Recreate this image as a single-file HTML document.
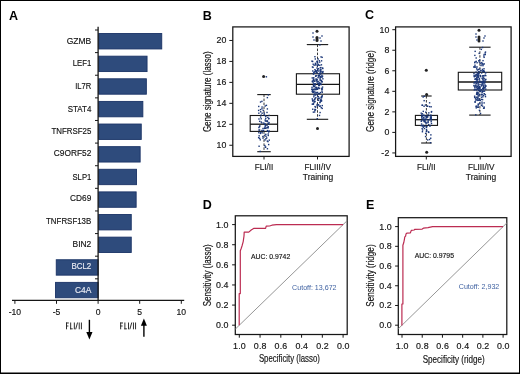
<!DOCTYPE html>
<html><head><meta charset="utf-8"><style>
html,body{margin:0;padding:0;background:#fff;}
svg{display:block;will-change:transform;}
text{font-family:"Liberation Sans",sans-serif;}
</style></head><body>
<svg width="520" height="374" viewBox="0 0 520 374">
<rect width="520" height="374" fill="#fff"/>
<rect x="0.5" y="0.5" width="519" height="373" fill="none" stroke="#000" stroke-width="1"/><line x1="0" y1="373.2" x2="520" y2="373.2" stroke="#000" stroke-width="1.6"/><text x="9.0" y="20.2" font-size="12.5" text-anchor="start" font-weight="bold" fill="#000">A</text><text x="202.8" y="20.2" font-size="12.5" text-anchor="start" font-weight="bold" fill="#000">B</text><text x="365.0" y="19.3" font-size="12.5" text-anchor="start" font-weight="bold" fill="#000">C</text><text x="202.8" y="208.9" font-size="12.5" text-anchor="start" font-weight="bold" fill="#000">D</text><text x="366.0" y="209.0" font-size="12.5" text-anchor="start" font-weight="bold" fill="#000">E</text><rect x="98.69999999999999" y="33.55" width="63.05" height="15.4" fill="#2e4b7c" stroke="#1a3366" stroke-width="0.9"/><text x="91.3" y="43.80" font-size="9.0" text-anchor="end" font-weight="normal" fill="#151515" textLength="24.6" lengthAdjust="spacingAndGlyphs" stroke="#151515" stroke-width="0.16">GZMB</text><rect x="98.69999999999999" y="56.17" width="48.35" height="15.4" fill="#2e4b7c" stroke="#1a3366" stroke-width="0.9"/><text x="91.3" y="66.40" font-size="9.0" text-anchor="end" font-weight="normal" fill="#151515" textLength="18.5" lengthAdjust="spacingAndGlyphs" stroke="#151515" stroke-width="0.16">LEF1</text><rect x="98.69999999999999" y="78.79" width="47.65" height="15.4" fill="#2e4b7c" stroke="#1a3366" stroke-width="0.9"/><text x="91.3" y="88.90" font-size="9.0" text-anchor="end" font-weight="normal" fill="#151515" textLength="16.1" lengthAdjust="spacingAndGlyphs" stroke="#151515" stroke-width="0.16">IL7R</text><rect x="98.69999999999999" y="101.41" width="44.15" height="15.4" fill="#2e4b7c" stroke="#1a3366" stroke-width="0.9"/><text x="91.3" y="111.70" font-size="9.0" text-anchor="end" font-weight="normal" fill="#151515" textLength="23.5" lengthAdjust="spacingAndGlyphs" stroke="#151515" stroke-width="0.16">STAT4</text><rect x="98.69999999999999" y="124.03" width="42.55" height="15.4" fill="#2e4b7c" stroke="#1a3366" stroke-width="0.9"/><text x="91.3" y="133.70" font-size="9.0" text-anchor="end" font-weight="normal" fill="#151515" textLength="39.9" lengthAdjust="spacingAndGlyphs" stroke="#151515" stroke-width="0.16">TNFRSF25</text><rect x="98.69999999999999" y="146.65" width="41.45" height="15.4" fill="#2e4b7c" stroke="#1a3366" stroke-width="0.9"/><text x="91.3" y="156.20" font-size="9.0" text-anchor="end" font-weight="normal" fill="#151515" textLength="37.5" lengthAdjust="spacingAndGlyphs" stroke="#151515" stroke-width="0.16">C9ORF52</text><rect x="98.69999999999999" y="169.27" width="37.85" height="15.4" fill="#2e4b7c" stroke="#1a3366" stroke-width="0.9"/><text x="91.3" y="179.70" font-size="9.0" text-anchor="end" font-weight="normal" fill="#151515" textLength="18.8" lengthAdjust="spacingAndGlyphs" stroke="#151515" stroke-width="0.16">SLP1</text><rect x="98.69999999999999" y="191.89" width="37.45" height="15.4" fill="#2e4b7c" stroke="#1a3366" stroke-width="0.9"/><text x="91.3" y="201.40" font-size="9.0" text-anchor="end" font-weight="normal" fill="#151515" textLength="21.2" lengthAdjust="spacingAndGlyphs" stroke="#151515" stroke-width="0.16">CD69</text><rect x="98.69999999999999" y="214.51" width="32.55" height="15.4" fill="#2e4b7c" stroke="#1a3366" stroke-width="0.9"/><text x="91.3" y="224.10" font-size="9.0" text-anchor="end" font-weight="normal" fill="#151515" textLength="45.3" lengthAdjust="spacingAndGlyphs" stroke="#151515" stroke-width="0.16">TNFRSF13B</text><rect x="98.69999999999999" y="237.13" width="32.55" height="15.4" fill="#2e4b7c" stroke="#1a3366" stroke-width="0.9"/><text x="91.3" y="246.70" font-size="9.0" text-anchor="end" font-weight="normal" fill="#151515" textLength="18.8" lengthAdjust="spacingAndGlyphs" stroke="#151515" stroke-width="0.16">BIN2</text><rect x="56.25" y="259.75" width="41.85" height="15.4" fill="#2e4b7c" stroke="#1a3366" stroke-width="0.9"/><text x="91.3" y="269.40" font-size="9.0" text-anchor="end" font-weight="normal" fill="#e8eaf2" textLength="19.9" lengthAdjust="spacingAndGlyphs" stroke="#e8eaf2" stroke-width="0.16">BCL2</text><rect x="55.550000000000004" y="282.37" width="42.55" height="15.4" fill="#2e4b7c" stroke="#1a3366" stroke-width="0.9"/><text x="91.3" y="292.50" font-size="9.0" text-anchor="end" font-weight="normal" fill="#e8eaf2" textLength="16.4" lengthAdjust="spacingAndGlyphs" stroke="#e8eaf2" stroke-width="0.16">C4A</text><line x1="98.1" y1="26.8" x2="98.1" y2="300.3" stroke="#161616" stroke-width="1.3"/><line x1="95" y1="30.00" x2="98.1" y2="30.00" stroke="#161616" stroke-width="1"/><line x1="95" y1="52.62" x2="98.1" y2="52.62" stroke="#161616" stroke-width="1"/><line x1="95" y1="75.24" x2="98.1" y2="75.24" stroke="#161616" stroke-width="1"/><line x1="95" y1="97.86" x2="98.1" y2="97.86" stroke="#161616" stroke-width="1"/><line x1="95" y1="120.48" x2="98.1" y2="120.48" stroke="#161616" stroke-width="1"/><line x1="95" y1="143.10" x2="98.1" y2="143.10" stroke="#161616" stroke-width="1"/><line x1="95" y1="165.72" x2="98.1" y2="165.72" stroke="#161616" stroke-width="1"/><line x1="95" y1="188.34" x2="98.1" y2="188.34" stroke="#161616" stroke-width="1"/><line x1="95" y1="210.96" x2="98.1" y2="210.96" stroke="#161616" stroke-width="1"/><line x1="95" y1="233.58" x2="98.1" y2="233.58" stroke="#161616" stroke-width="1"/><line x1="95" y1="256.20" x2="98.1" y2="256.20" stroke="#161616" stroke-width="1"/><line x1="95" y1="278.82" x2="98.1" y2="278.82" stroke="#161616" stroke-width="1"/><line x1="12" y1="300.45" x2="184.2" y2="300.45" stroke="#161616" stroke-width="1.3"/><line x1="14.90" y1="300.3" x2="14.90" y2="303.8" stroke="#161616" stroke-width="1"/><text x="14.90" y="315.0" font-size="8.6" text-anchor="middle" font-weight="normal" fill="#151515" stroke="#151515" stroke-width="0.16">-10</text><line x1="56.50" y1="300.3" x2="56.50" y2="303.8" stroke="#161616" stroke-width="1"/><text x="56.50" y="315.0" font-size="8.6" text-anchor="middle" font-weight="normal" fill="#151515" stroke="#151515" stroke-width="0.16">-5</text><line x1="98.10" y1="300.3" x2="98.10" y2="303.8" stroke="#161616" stroke-width="1"/><text x="98.10" y="315.0" font-size="8.6" text-anchor="middle" font-weight="normal" fill="#151515" stroke="#151515" stroke-width="0.16">0</text><line x1="139.70" y1="300.3" x2="139.70" y2="303.8" stroke="#161616" stroke-width="1"/><text x="139.70" y="315.0" font-size="8.6" text-anchor="middle" font-weight="normal" fill="#151515" stroke="#151515" stroke-width="0.16">5</text><line x1="181.30" y1="300.3" x2="181.30" y2="303.8" stroke="#161616" stroke-width="1"/><text x="181.30" y="315.0" font-size="8.6" text-anchor="middle" font-weight="normal" fill="#151515" stroke="#151515" stroke-width="0.16">10</text><rect x="66.00" y="322.50" width="0.95" height="6.80" fill="#262626"/><rect x="66.00" y="322.50" width="2.80" height="0.95" fill="#262626"/><rect x="66.00" y="325.55" width="2.40" height="0.90" fill="#262626"/><rect x="70.20" y="322.50" width="0.95" height="6.80" fill="#262626"/><rect x="70.20" y="328.35" width="2.50" height="0.95" fill="#262626"/><rect x="73.85" y="322.50" width="0.95" height="6.80" fill="#262626"/><line x1="75.65" y1="329.30" x2="77.55" y2="322.50" stroke="#262626" stroke-width="0.95"/><rect x="78.75" y="322.50" width="0.95" height="6.80" fill="#262626"/><rect x="80.90" y="322.50" width="0.95" height="6.80" fill="#262626"/><rect x="120.20" y="322.50" width="0.95" height="6.80" fill="#262626"/><rect x="120.20" y="322.50" width="2.80" height="0.95" fill="#262626"/><rect x="120.20" y="325.55" width="2.40" height="0.90" fill="#262626"/><rect x="124.40" y="322.50" width="0.95" height="6.80" fill="#262626"/><rect x="124.40" y="328.35" width="2.50" height="0.95" fill="#262626"/><rect x="128.05" y="322.50" width="0.95" height="6.80" fill="#262626"/><line x1="129.85" y1="329.30" x2="131.75" y2="322.50" stroke="#262626" stroke-width="0.95"/><rect x="132.95" y="322.50" width="0.95" height="6.80" fill="#262626"/><rect x="135.10" y="322.50" width="0.95" height="6.80" fill="#262626"/><line x1="89.4" y1="319.8" x2="89.4" y2="333" stroke="#000" stroke-width="1.4"/><polygon points="86.3,332 92.5,332 89.4,339.5" fill="#000"/><line x1="143.9" y1="324" x2="143.9" y2="336.8" stroke="#000" stroke-width="1.4"/><polygon points="140.9,325.8 146.9,325.8 143.9,318.6" fill="#000"/><rect x="232.8" y="26.9" width="116.30000000000001" height="129.5" fill="none" stroke="#161616" stroke-width="1.25"/><line x1="229.3" y1="145.26" x2="232.8" y2="145.26" stroke="#161616" stroke-width="1"/><text x="226.4" y="148.26" font-size="8.8" text-anchor="end" font-weight="normal" fill="#151515" letter-spacing="0.1" stroke="#151515" stroke-width="0.16">10</text><line x1="229.3" y1="124.30" x2="232.8" y2="124.30" stroke="#161616" stroke-width="1"/><text x="226.4" y="127.30" font-size="8.8" text-anchor="end" font-weight="normal" fill="#151515" letter-spacing="0.1" stroke="#151515" stroke-width="0.16">12</text><line x1="229.3" y1="103.34" x2="232.8" y2="103.34" stroke="#161616" stroke-width="1"/><text x="226.4" y="106.34" font-size="8.8" text-anchor="end" font-weight="normal" fill="#151515" letter-spacing="0.1" stroke="#151515" stroke-width="0.16">14</text><line x1="229.3" y1="82.38" x2="232.8" y2="82.38" stroke="#161616" stroke-width="1"/><text x="226.4" y="85.38" font-size="8.8" text-anchor="end" font-weight="normal" fill="#151515" letter-spacing="0.1" stroke="#151515" stroke-width="0.16">16</text><line x1="229.3" y1="61.42" x2="232.8" y2="61.42" stroke="#161616" stroke-width="1"/><text x="226.4" y="64.42" font-size="8.8" text-anchor="end" font-weight="normal" fill="#151515" letter-spacing="0.1" stroke="#151515" stroke-width="0.16">18</text><line x1="229.3" y1="40.46" x2="232.8" y2="40.46" stroke="#161616" stroke-width="1"/><text x="226.4" y="43.46" font-size="8.8" text-anchor="end" font-weight="normal" fill="#151515" letter-spacing="0.1" stroke="#151515" stroke-width="0.16">20</text><line x1="264" y1="156.4" x2="264" y2="159.5" stroke="#161616" stroke-width="1"/><line x1="317.5" y1="156.4" x2="317.5" y2="159.5" stroke="#161616" stroke-width="1"/><text x="264" y="170.4" font-size="8.5" text-anchor="middle" font-weight="normal" fill="#151515" textLength="18.6" lengthAdjust="spacingAndGlyphs" stroke="#151515" stroke-width="0.16">FLI/II</text><text x="317.7" y="170.4" font-size="8.5" text-anchor="middle" font-weight="normal" fill="#151515" textLength="26.5" lengthAdjust="spacingAndGlyphs" stroke="#151515" stroke-width="0.16">FLIII/IV</text><text x="318" y="180.2" font-size="8.5" text-anchor="middle" font-weight="normal" fill="#151515" textLength="30.3" lengthAdjust="spacingAndGlyphs" stroke="#151515" stroke-width="0.16">Training</text><text x="210.8" y="91.7" font-size="10.4" text-anchor="middle" font-weight="normal" fill="#151515" textLength="80.8" lengthAdjust="spacingAndGlyphs" transform="rotate(-90 210.8 91.7)" stroke="#1a1a1a" stroke-width="0.18">Gene signature (lasso)</text><line x1="264" y1="94.6" x2="264" y2="115.5" stroke="#222" stroke-width="0.9" stroke-dasharray="2.5,1.5"/><line x1="264" y1="131.4" x2="264" y2="151.7" stroke="#222" stroke-width="0.9" stroke-dasharray="2.5,1.5"/><line x1="257.25" y1="94.6" x2="270.75" y2="94.6" stroke="#161616" stroke-width="1.1"/><line x1="257.25" y1="151.7" x2="270.75" y2="151.7" stroke="#161616" stroke-width="1.1"/><rect x="250.2" y="115.5" width="27.400000000000034" height="15.900000000000006" fill="none" stroke="#161616" stroke-width="1.1"/><line x1="250.2" y1="124.2" x2="277.6" y2="124.2" stroke="#161616" stroke-width="1.3"/><circle cx="263.6" cy="76.6" r="1.5" fill="#222"/><line x1="317.5" y1="44.6" x2="317.5" y2="73.75" stroke="#222" stroke-width="0.9" stroke-dasharray="2.5,1.5"/><line x1="317.5" y1="94.2" x2="317.5" y2="119.3" stroke="#222" stroke-width="0.9" stroke-dasharray="2.5,1.5"/><line x1="306.8" y1="44.6" x2="328.2" y2="44.6" stroke="#161616" stroke-width="1.1"/><line x1="306.8" y1="119.3" x2="328.2" y2="119.3" stroke="#161616" stroke-width="1.1"/><rect x="296.4" y="73.75" width="43.10000000000002" height="20.450000000000003" fill="none" stroke="#161616" stroke-width="1.1"/><line x1="296.4" y1="84.3" x2="339.5" y2="84.3" stroke="#161616" stroke-width="1.3"/><circle cx="317" cy="31.2" r="1.5" fill="#222"/><circle cx="317" cy="37.5" r="1.5" fill="#222"/><circle cx="317" cy="39" r="1.5" fill="#222"/><circle cx="317" cy="40.5" r="1.5" fill="#222"/><circle cx="317.5" cy="128.6" r="1.5" fill="#222"/><rect x="266.02" y="137.25" width="1.4" height="1.4" fill="#1b3778"/><rect x="264.20" y="127.16" width="1.4" height="1.4" fill="#1b3778"/><rect x="262.48" y="129.77" width="1.4" height="1.4" fill="#1b3778"/><rect x="267.54" y="134.78" width="1.4" height="1.4" fill="#1b3778"/><rect x="262.31" y="127.81" width="1.4" height="1.4" fill="#1b3778"/><rect x="268.03" y="131.31" width="1.4" height="1.4" fill="#1b3778"/><rect x="258.47" y="135.11" width="1.4" height="1.4" fill="#1b3778"/><rect x="262.52" y="109.72" width="1.4" height="1.4" fill="#1b3778"/><rect x="263.52" y="112.51" width="1.4" height="1.4" fill="#1b3778"/><rect x="268.35" y="121.90" width="1.4" height="1.4" fill="#1b3778"/><rect x="260.51" y="118.10" width="1.4" height="1.4" fill="#1b3778"/><rect x="266.73" y="148.04" width="1.4" height="1.4" fill="#1b3778"/><rect x="265.28" y="138.00" width="1.4" height="1.4" fill="#1b3778"/><rect x="265.73" y="104.66" width="1.4" height="1.4" fill="#1b3778"/><rect x="264.75" y="120.35" width="1.4" height="1.4" fill="#1b3778"/><rect x="268.58" y="139.45" width="1.4" height="1.4" fill="#1b3778"/><rect x="261.43" y="112.50" width="1.4" height="1.4" fill="#1b3778"/><rect x="262.16" y="135.81" width="1.4" height="1.4" fill="#1b3778"/><rect x="259.97" y="111.09" width="1.4" height="1.4" fill="#1b3778"/><rect x="258.27" y="118.30" width="1.4" height="1.4" fill="#1b3778"/><rect x="260.08" y="131.71" width="1.4" height="1.4" fill="#1b3778"/><rect x="267.95" y="123.22" width="1.4" height="1.4" fill="#1b3778"/><rect x="267.11" y="116.67" width="1.4" height="1.4" fill="#1b3778"/><rect x="258.96" y="120.64" width="1.4" height="1.4" fill="#1b3778"/><rect x="264.46" y="125.66" width="1.4" height="1.4" fill="#1b3778"/><rect x="263.07" y="122.40" width="1.4" height="1.4" fill="#1b3778"/><rect x="264.36" y="139.20" width="1.4" height="1.4" fill="#1b3778"/><rect x="265.08" y="115.95" width="1.4" height="1.4" fill="#1b3778"/><rect x="261.13" y="122.15" width="1.4" height="1.4" fill="#1b3778"/><rect x="268.47" y="130.30" width="1.4" height="1.4" fill="#1b3778"/><rect x="262.92" y="130.01" width="1.4" height="1.4" fill="#1b3778"/><rect x="264.73" y="127.60" width="1.4" height="1.4" fill="#1b3778"/><rect x="264.81" y="124.55" width="1.4" height="1.4" fill="#1b3778"/><rect x="259.76" y="132.76" width="1.4" height="1.4" fill="#1b3778"/><rect x="258.39" y="145.55" width="1.4" height="1.4" fill="#1b3778"/><rect x="262.31" y="137.42" width="1.4" height="1.4" fill="#1b3778"/><rect x="266.26" y="124.80" width="1.4" height="1.4" fill="#1b3778"/><rect x="266.83" y="129.87" width="1.4" height="1.4" fill="#1b3778"/><rect x="265.88" y="120.38" width="1.4" height="1.4" fill="#1b3778"/><rect x="258.97" y="137.68" width="1.4" height="1.4" fill="#1b3778"/><rect x="267.93" y="118.07" width="1.4" height="1.4" fill="#1b3778"/><rect x="266.68" y="108.22" width="1.4" height="1.4" fill="#1b3778"/><rect x="267.53" y="133.30" width="1.4" height="1.4" fill="#1b3778"/><rect x="263.56" y="114.23" width="1.4" height="1.4" fill="#1b3778"/><rect x="267.96" y="143.86" width="1.4" height="1.4" fill="#1b3778"/><rect x="258.22" y="126.87" width="1.4" height="1.4" fill="#1b3778"/><rect x="258.04" y="105.76" width="1.4" height="1.4" fill="#1b3778"/><rect x="257.93" y="109.73" width="1.4" height="1.4" fill="#1b3778"/><rect x="260.53" y="121.34" width="1.4" height="1.4" fill="#1b3778"/><rect x="260.48" y="114.42" width="1.4" height="1.4" fill="#1b3778"/><rect x="259.80" y="108.89" width="1.4" height="1.4" fill="#1b3778"/><rect x="264.05" y="123.72" width="1.4" height="1.4" fill="#1b3778"/><rect x="258.14" y="131.99" width="1.4" height="1.4" fill="#1b3778"/><rect x="264.31" y="123.21" width="1.4" height="1.4" fill="#1b3778"/><rect x="259.56" y="139.12" width="1.4" height="1.4" fill="#1b3778"/><rect x="265.29" y="135.65" width="1.4" height="1.4" fill="#1b3778"/><rect x="257.94" y="136.99" width="1.4" height="1.4" fill="#1b3778"/><rect x="261.18" y="129.78" width="1.4" height="1.4" fill="#1b3778"/><rect x="268.21" y="117.79" width="1.4" height="1.4" fill="#1b3778"/><rect x="263.73" y="127.75" width="1.4" height="1.4" fill="#1b3778"/><rect x="266.79" y="120.75" width="1.4" height="1.4" fill="#1b3778"/><rect x="265.07" y="117.89" width="1.4" height="1.4" fill="#1b3778"/><rect x="264.54" y="119.32" width="1.4" height="1.4" fill="#1b3778"/><rect x="259.84" y="101.32" width="1.4" height="1.4" fill="#1b3778"/><rect x="264.13" y="144.88" width="1.4" height="1.4" fill="#1b3778"/><rect x="258.14" y="112.49" width="1.4" height="1.4" fill="#1b3778"/><rect x="266.68" y="96.92" width="1.4" height="1.4" fill="#1b3778"/><rect x="268.45" y="114.72" width="1.4" height="1.4" fill="#1b3778"/><rect x="267.26" y="140.91" width="1.4" height="1.4" fill="#1b3778"/><rect x="258.27" y="129.34" width="1.4" height="1.4" fill="#1b3778"/><rect x="261.49" y="132.14" width="1.4" height="1.4" fill="#1b3778"/><rect x="261.26" y="108.08" width="1.4" height="1.4" fill="#1b3778"/><rect x="258.96" y="129.37" width="1.4" height="1.4" fill="#1b3778"/><rect x="264.72" y="114.92" width="1.4" height="1.4" fill="#1b3778"/><rect x="266.63" y="120.27" width="1.4" height="1.4" fill="#1b3778"/><rect x="261.21" y="100.68" width="1.4" height="1.4" fill="#1b3778"/><rect x="267.36" y="127.19" width="1.4" height="1.4" fill="#1b3778"/><rect x="266.63" y="140.37" width="1.4" height="1.4" fill="#1b3778"/><rect x="259.15" y="125.13" width="1.4" height="1.4" fill="#1b3778"/><rect x="266.29" y="111.74" width="1.4" height="1.4" fill="#1b3778"/><rect x="267.59" y="126.11" width="1.4" height="1.4" fill="#1b3778"/><rect x="259.91" y="116.36" width="1.4" height="1.4" fill="#1b3778"/><rect x="264.12" y="134.58" width="1.4" height="1.4" fill="#1b3778"/><rect x="264.85" y="146.38" width="1.4" height="1.4" fill="#1b3778"/><rect x="264.52" y="105.27" width="1.4" height="1.4" fill="#1b3778"/><rect x="258.78" y="125.95" width="1.4" height="1.4" fill="#1b3778"/><rect x="265.11" y="133.67" width="1.4" height="1.4" fill="#1b3778"/><rect x="264.78" y="146.55" width="1.4" height="1.4" fill="#1b3778"/><rect x="266.93" y="126.70" width="1.4" height="1.4" fill="#1b3778"/><rect x="266.70" y="130.56" width="1.4" height="1.4" fill="#1b3778"/><rect x="261.36" y="106.35" width="1.4" height="1.4" fill="#1b3778"/><rect x="265.79" y="127.25" width="1.4" height="1.4" fill="#1b3778"/><rect x="267.41" y="122.60" width="1.4" height="1.4" fill="#1b3778"/><rect x="267.70" y="94.20" width="1.4" height="1.4" fill="#1b3778"/><rect x="259.51" y="150.70" width="1.4" height="1.4" fill="#1b3778"/><rect x="265.70" y="76.10" width="1.4" height="1.4" fill="#1b3778"/><rect x="316.33" y="72.38" width="1.4" height="1.4" fill="#1b3778"/><rect x="313.02" y="83.55" width="1.4" height="1.4" fill="#1b3778"/><rect x="314.22" y="56.01" width="1.4" height="1.4" fill="#1b3778"/><rect x="320.08" y="82.72" width="1.4" height="1.4" fill="#1b3778"/><rect x="313.26" y="86.04" width="1.4" height="1.4" fill="#1b3778"/><rect x="318.11" y="87.50" width="1.4" height="1.4" fill="#1b3778"/><rect x="315.75" y="70.19" width="1.4" height="1.4" fill="#1b3778"/><rect x="315.88" y="71.54" width="1.4" height="1.4" fill="#1b3778"/><rect x="320.35" y="83.93" width="1.4" height="1.4" fill="#1b3778"/><rect x="313.00" y="88.58" width="1.4" height="1.4" fill="#1b3778"/><rect x="321.55" y="95.08" width="1.4" height="1.4" fill="#1b3778"/><rect x="321.21" y="95.79" width="1.4" height="1.4" fill="#1b3778"/><rect x="318.69" y="82.13" width="1.4" height="1.4" fill="#1b3778"/><rect x="311.75" y="66.27" width="1.4" height="1.4" fill="#1b3778"/><rect x="318.63" y="74.99" width="1.4" height="1.4" fill="#1b3778"/><rect x="317.92" y="104.05" width="1.4" height="1.4" fill="#1b3778"/><rect x="319.85" y="75.85" width="1.4" height="1.4" fill="#1b3778"/><rect x="313.59" y="101.24" width="1.4" height="1.4" fill="#1b3778"/><rect x="321.88" y="86.40" width="1.4" height="1.4" fill="#1b3778"/><rect x="321.13" y="88.71" width="1.4" height="1.4" fill="#1b3778"/><rect x="312.48" y="63.52" width="1.4" height="1.4" fill="#1b3778"/><rect x="314.73" y="88.91" width="1.4" height="1.4" fill="#1b3778"/><rect x="311.56" y="77.22" width="1.4" height="1.4" fill="#1b3778"/><rect x="320.51" y="106.96" width="1.4" height="1.4" fill="#1b3778"/><rect x="321.45" y="56.65" width="1.4" height="1.4" fill="#1b3778"/><rect x="322.29" y="70.83" width="1.4" height="1.4" fill="#1b3778"/><rect x="318.05" y="84.95" width="1.4" height="1.4" fill="#1b3778"/><rect x="318.66" y="84.72" width="1.4" height="1.4" fill="#1b3778"/><rect x="318.80" y="114.76" width="1.4" height="1.4" fill="#1b3778"/><rect x="317.59" y="92.92" width="1.4" height="1.4" fill="#1b3778"/><rect x="321.87" y="75.48" width="1.4" height="1.4" fill="#1b3778"/><rect x="318.01" y="83.28" width="1.4" height="1.4" fill="#1b3778"/><rect x="314.96" y="75.24" width="1.4" height="1.4" fill="#1b3778"/><rect x="316.94" y="88.61" width="1.4" height="1.4" fill="#1b3778"/><rect x="311.41" y="88.52" width="1.4" height="1.4" fill="#1b3778"/><rect x="319.31" y="82.70" width="1.4" height="1.4" fill="#1b3778"/><rect x="318.97" y="72.57" width="1.4" height="1.4" fill="#1b3778"/><rect x="315.92" y="86.72" width="1.4" height="1.4" fill="#1b3778"/><rect x="320.74" y="64.11" width="1.4" height="1.4" fill="#1b3778"/><rect x="319.66" y="72.26" width="1.4" height="1.4" fill="#1b3778"/><rect x="314.97" y="75.55" width="1.4" height="1.4" fill="#1b3778"/><rect x="312.07" y="100.16" width="1.4" height="1.4" fill="#1b3778"/><rect x="312.68" y="82.34" width="1.4" height="1.4" fill="#1b3778"/><rect x="313.26" y="91.13" width="1.4" height="1.4" fill="#1b3778"/><rect x="314.60" y="58.28" width="1.4" height="1.4" fill="#1b3778"/><rect x="316.21" y="81.08" width="1.4" height="1.4" fill="#1b3778"/><rect x="321.59" y="104.89" width="1.4" height="1.4" fill="#1b3778"/><rect x="314.32" y="108.69" width="1.4" height="1.4" fill="#1b3778"/><rect x="321.26" y="90.35" width="1.4" height="1.4" fill="#1b3778"/><rect x="318.82" y="105.55" width="1.4" height="1.4" fill="#1b3778"/><rect x="320.76" y="76.23" width="1.4" height="1.4" fill="#1b3778"/><rect x="315.72" y="70.99" width="1.4" height="1.4" fill="#1b3778"/><rect x="311.24" y="60.47" width="1.4" height="1.4" fill="#1b3778"/><rect x="320.01" y="71.01" width="1.4" height="1.4" fill="#1b3778"/><rect x="313.95" y="111.26" width="1.4" height="1.4" fill="#1b3778"/><rect x="312.80" y="102.55" width="1.4" height="1.4" fill="#1b3778"/><rect x="320.15" y="68.74" width="1.4" height="1.4" fill="#1b3778"/><rect x="318.89" y="92.87" width="1.4" height="1.4" fill="#1b3778"/><rect x="313.58" y="71.15" width="1.4" height="1.4" fill="#1b3778"/><rect x="314.20" y="101.02" width="1.4" height="1.4" fill="#1b3778"/><rect x="321.72" y="71.95" width="1.4" height="1.4" fill="#1b3778"/><rect x="314.21" y="93.16" width="1.4" height="1.4" fill="#1b3778"/><rect x="319.07" y="64.59" width="1.4" height="1.4" fill="#1b3778"/><rect x="312.65" y="91.56" width="1.4" height="1.4" fill="#1b3778"/><rect x="320.33" y="97.28" width="1.4" height="1.4" fill="#1b3778"/><rect x="312.52" y="91.54" width="1.4" height="1.4" fill="#1b3778"/><rect x="316.98" y="80.46" width="1.4" height="1.4" fill="#1b3778"/><rect x="311.59" y="103.50" width="1.4" height="1.4" fill="#1b3778"/><rect x="317.36" y="83.08" width="1.4" height="1.4" fill="#1b3778"/><rect x="320.68" y="99.63" width="1.4" height="1.4" fill="#1b3778"/><rect x="312.15" y="99.33" width="1.4" height="1.4" fill="#1b3778"/><rect x="314.27" y="80.35" width="1.4" height="1.4" fill="#1b3778"/><rect x="319.76" y="91.87" width="1.4" height="1.4" fill="#1b3778"/><rect x="318.01" y="98.08" width="1.4" height="1.4" fill="#1b3778"/><rect x="314.70" y="62.62" width="1.4" height="1.4" fill="#1b3778"/><rect x="318.24" y="70.44" width="1.4" height="1.4" fill="#1b3778"/><rect x="316.29" y="78.87" width="1.4" height="1.4" fill="#1b3778"/><rect x="320.86" y="60.12" width="1.4" height="1.4" fill="#1b3778"/><rect x="314.48" y="94.32" width="1.4" height="1.4" fill="#1b3778"/><rect x="319.69" y="105.36" width="1.4" height="1.4" fill="#1b3778"/><rect x="318.32" y="73.21" width="1.4" height="1.4" fill="#1b3778"/><rect x="319.49" y="83.16" width="1.4" height="1.4" fill="#1b3778"/><rect x="315.44" y="88.24" width="1.4" height="1.4" fill="#1b3778"/><rect x="319.32" y="77.37" width="1.4" height="1.4" fill="#1b3778"/><rect x="319.02" y="61.41" width="1.4" height="1.4" fill="#1b3778"/><rect x="315.54" y="88.78" width="1.4" height="1.4" fill="#1b3778"/><rect x="311.50" y="90.84" width="1.4" height="1.4" fill="#1b3778"/><rect x="321.98" y="72.04" width="1.4" height="1.4" fill="#1b3778"/><rect x="319.19" y="101.90" width="1.4" height="1.4" fill="#1b3778"/><rect x="313.49" y="89.13" width="1.4" height="1.4" fill="#1b3778"/><rect x="319.39" y="111.84" width="1.4" height="1.4" fill="#1b3778"/><rect x="314.32" y="94.00" width="1.4" height="1.4" fill="#1b3778"/><rect x="316.46" y="88.08" width="1.4" height="1.4" fill="#1b3778"/><rect x="320.83" y="79.71" width="1.4" height="1.4" fill="#1b3778"/><rect x="316.22" y="78.86" width="1.4" height="1.4" fill="#1b3778"/><rect x="314.43" y="84.33" width="1.4" height="1.4" fill="#1b3778"/><rect x="314.62" y="64.24" width="1.4" height="1.4" fill="#1b3778"/><rect x="312.06" y="70.26" width="1.4" height="1.4" fill="#1b3778"/><rect x="313.66" y="85.54" width="1.4" height="1.4" fill="#1b3778"/><rect x="314.24" y="109.66" width="1.4" height="1.4" fill="#1b3778"/><rect x="313.14" y="96.09" width="1.4" height="1.4" fill="#1b3778"/><rect x="311.91" y="99.98" width="1.4" height="1.4" fill="#1b3778"/><rect x="316.42" y="60.63" width="1.4" height="1.4" fill="#1b3778"/><rect x="313.60" y="80.51" width="1.4" height="1.4" fill="#1b3778"/><rect x="319.47" y="78.89" width="1.4" height="1.4" fill="#1b3778"/><rect x="321.53" y="91.59" width="1.4" height="1.4" fill="#1b3778"/><rect x="314.26" y="88.21" width="1.4" height="1.4" fill="#1b3778"/><rect x="317.61" y="63.69" width="1.4" height="1.4" fill="#1b3778"/><rect x="316.88" y="91.71" width="1.4" height="1.4" fill="#1b3778"/><rect x="312.04" y="90.31" width="1.4" height="1.4" fill="#1b3778"/><rect x="312.60" y="103.46" width="1.4" height="1.4" fill="#1b3778"/><rect x="321.11" y="87.62" width="1.4" height="1.4" fill="#1b3778"/><rect x="316.51" y="64.92" width="1.4" height="1.4" fill="#1b3778"/><rect x="320.21" y="99.03" width="1.4" height="1.4" fill="#1b3778"/><rect x="311.95" y="60.79" width="1.4" height="1.4" fill="#1b3778"/><rect x="317.86" y="67.97" width="1.4" height="1.4" fill="#1b3778"/><rect x="320.89" y="100.19" width="1.4" height="1.4" fill="#1b3778"/><rect x="320.91" y="81.02" width="1.4" height="1.4" fill="#1b3778"/><rect x="311.26" y="88.59" width="1.4" height="1.4" fill="#1b3778"/><rect x="317.04" y="68.62" width="1.4" height="1.4" fill="#1b3778"/><rect x="315.33" y="91.79" width="1.4" height="1.4" fill="#1b3778"/><rect x="319.71" y="77.07" width="1.4" height="1.4" fill="#1b3778"/><rect x="312.02" y="108.53" width="1.4" height="1.4" fill="#1b3778"/><rect x="314.17" y="91.37" width="1.4" height="1.4" fill="#1b3778"/><rect x="320.30" y="99.86" width="1.4" height="1.4" fill="#1b3778"/><rect x="316.46" y="105.01" width="1.4" height="1.4" fill="#1b3778"/><rect x="316.28" y="93.93" width="1.4" height="1.4" fill="#1b3778"/><rect x="322.05" y="67.82" width="1.4" height="1.4" fill="#1b3778"/><rect x="314.78" y="109.03" width="1.4" height="1.4" fill="#1b3778"/><rect x="311.67" y="89.34" width="1.4" height="1.4" fill="#1b3778"/><rect x="315.59" y="78.94" width="1.4" height="1.4" fill="#1b3778"/><rect x="312.92" y="80.06" width="1.4" height="1.4" fill="#1b3778"/><rect x="312.12" y="90.31" width="1.4" height="1.4" fill="#1b3778"/><rect x="317.56" y="64.43" width="1.4" height="1.4" fill="#1b3778"/><rect x="321.88" y="67.33" width="1.4" height="1.4" fill="#1b3778"/><rect x="317.69" y="95.89" width="1.4" height="1.4" fill="#1b3778"/><rect x="318.45" y="97.44" width="1.4" height="1.4" fill="#1b3778"/><rect x="314.82" y="86.50" width="1.4" height="1.4" fill="#1b3778"/><rect x="317.60" y="99.59" width="1.4" height="1.4" fill="#1b3778"/><rect x="319.63" y="83.59" width="1.4" height="1.4" fill="#1b3778"/><rect x="317.80" y="87.09" width="1.4" height="1.4" fill="#1b3778"/><rect x="320.19" y="66.89" width="1.4" height="1.4" fill="#1b3778"/><rect x="317.37" y="76.97" width="1.4" height="1.4" fill="#1b3778"/><rect x="313.42" y="64.48" width="1.4" height="1.4" fill="#1b3778"/><rect x="317.73" y="83.05" width="1.4" height="1.4" fill="#1b3778"/><rect x="316.70" y="82.43" width="1.4" height="1.4" fill="#1b3778"/><rect x="313.06" y="77.03" width="1.4" height="1.4" fill="#1b3778"/><rect x="318.13" y="75.87" width="1.4" height="1.4" fill="#1b3778"/><rect x="320.35" y="56.20" width="1.4" height="1.4" fill="#1b3778"/><rect x="312.71" y="78.26" width="1.4" height="1.4" fill="#1b3778"/><rect x="317.30" y="104.39" width="1.4" height="1.4" fill="#1b3778"/><rect x="319.42" y="73.82" width="1.4" height="1.4" fill="#1b3778"/><rect x="315.71" y="92.18" width="1.4" height="1.4" fill="#1b3778"/><rect x="314.22" y="68.99" width="1.4" height="1.4" fill="#1b3778"/><rect x="315.37" y="78.27" width="1.4" height="1.4" fill="#1b3778"/><rect x="317.27" y="96.09" width="1.4" height="1.4" fill="#1b3778"/><rect x="318.89" y="87.76" width="1.4" height="1.4" fill="#1b3778"/><rect x="317.46" y="58.31" width="1.4" height="1.4" fill="#1b3778"/><rect x="312.40" y="91.79" width="1.4" height="1.4" fill="#1b3778"/><rect x="320.36" y="100.31" width="1.4" height="1.4" fill="#1b3778"/><rect x="321.55" y="81.15" width="1.4" height="1.4" fill="#1b3778"/><rect x="312.33" y="66.71" width="1.4" height="1.4" fill="#1b3778"/><rect x="313.99" y="98.67" width="1.4" height="1.4" fill="#1b3778"/><rect x="313.15" y="78.81" width="1.4" height="1.4" fill="#1b3778"/><rect x="320.71" y="96.14" width="1.4" height="1.4" fill="#1b3778"/><rect x="321.40" y="76.39" width="1.4" height="1.4" fill="#1b3778"/><rect x="311.70" y="80.50" width="1.4" height="1.4" fill="#1b3778"/><rect x="314.92" y="106.42" width="1.4" height="1.4" fill="#1b3778"/><rect x="313.36" y="72.38" width="1.4" height="1.4" fill="#1b3778"/><rect x="316.46" y="61.09" width="1.4" height="1.4" fill="#1b3778"/><rect x="321.52" y="107.70" width="1.4" height="1.4" fill="#1b3778"/><rect x="311.99" y="99.83" width="1.4" height="1.4" fill="#1b3778"/><rect x="313.12" y="94.29" width="1.4" height="1.4" fill="#1b3778"/><rect x="316.65" y="62.31" width="1.4" height="1.4" fill="#1b3778"/><rect x="317.07" y="69.93" width="1.4" height="1.4" fill="#1b3778"/><rect x="319.55" y="79.84" width="1.4" height="1.4" fill="#1b3778"/><rect x="316.10" y="87.33" width="1.4" height="1.4" fill="#1b3778"/><rect x="312.78" y="103.36" width="1.4" height="1.4" fill="#1b3778"/><rect x="315.16" y="96.94" width="1.4" height="1.4" fill="#1b3778"/><rect x="322.20" y="78.08" width="1.4" height="1.4" fill="#1b3778"/><rect x="319.61" y="101.20" width="1.4" height="1.4" fill="#1b3778"/><rect x="312.50" y="79.71" width="1.4" height="1.4" fill="#1b3778"/><rect x="320.25" y="70.52" width="1.4" height="1.4" fill="#1b3778"/><rect x="314.68" y="83.20" width="1.4" height="1.4" fill="#1b3778"/><rect x="319.95" y="69.33" width="1.4" height="1.4" fill="#1b3778"/><rect x="311.34" y="86.63" width="1.4" height="1.4" fill="#1b3778"/><rect x="320.96" y="96.91" width="1.4" height="1.4" fill="#1b3778"/><rect x="313.02" y="72.25" width="1.4" height="1.4" fill="#1b3778"/><rect x="316.30" y="67.30" width="1.4" height="1.4" fill="#1b3778"/><rect x="318.61" y="60.04" width="1.4" height="1.4" fill="#1b3778"/><rect x="316.89" y="61.68" width="1.4" height="1.4" fill="#1b3778"/><rect x="313.05" y="85.54" width="1.4" height="1.4" fill="#1b3778"/><rect x="312.76" y="84.96" width="1.4" height="1.4" fill="#1b3778"/><rect x="314.39" y="97.87" width="1.4" height="1.4" fill="#1b3778"/><rect x="311.79" y="81.16" width="1.4" height="1.4" fill="#1b3778"/><rect x="313.63" y="100.56" width="1.4" height="1.4" fill="#1b3778"/><rect x="312.66" y="111.43" width="1.4" height="1.4" fill="#1b3778"/><rect x="316.41" y="103.76" width="1.4" height="1.4" fill="#1b3778"/><rect x="315.19" y="63.68" width="1.4" height="1.4" fill="#1b3778"/><rect x="317.77" y="81.15" width="1.4" height="1.4" fill="#1b3778"/><rect x="314.35" y="105.91" width="1.4" height="1.4" fill="#1b3778"/><rect x="311.58" y="98.21" width="1.4" height="1.4" fill="#1b3778"/><rect x="314.91" y="69.78" width="1.4" height="1.4" fill="#1b3778"/><rect x="319.66" y="99.70" width="1.4" height="1.4" fill="#1b3778"/><rect x="314.07" y="100.58" width="1.4" height="1.4" fill="#1b3778"/><rect x="315.73" y="71.32" width="1.4" height="1.4" fill="#1b3778"/><rect x="319.66" y="66.99" width="1.4" height="1.4" fill="#1b3778"/><rect x="315.75" y="79.80" width="1.4" height="1.4" fill="#1b3778"/><rect x="321.14" y="74.48" width="1.4" height="1.4" fill="#1b3778"/><rect x="321.48" y="71.37" width="1.4" height="1.4" fill="#1b3778"/><rect x="314.68" y="70.91" width="1.4" height="1.4" fill="#1b3778"/><rect x="319.44" y="69.41" width="1.4" height="1.4" fill="#1b3778"/><rect x="314.03" y="83.20" width="1.4" height="1.4" fill="#1b3778"/><rect x="312.76" y="73.32" width="1.4" height="1.4" fill="#1b3778"/><rect x="316.10" y="74.99" width="1.4" height="1.4" fill="#1b3778"/><rect x="317.95" y="74.79" width="1.4" height="1.4" fill="#1b3778"/><rect x="321.68" y="88.30" width="1.4" height="1.4" fill="#1b3778"/><rect x="312.83" y="72.87" width="1.4" height="1.4" fill="#1b3778"/><rect x="319.18" y="44.20" width="1.4" height="1.4" fill="#1b3778"/><rect x="316.53" y="118.00" width="1.4" height="1.4" fill="#1b3778"/><rect x="312.30" y="36.30" width="1.4" height="1.4" fill="#1b3778"/><rect x="319.30" y="37.30" width="1.4" height="1.4" fill="#1b3778"/><rect x="313.30" y="39.30" width="1.4" height="1.4" fill="#1b3778"/><rect x="320.30" y="40.30" width="1.4" height="1.4" fill="#1b3778"/><rect x="312.30" y="32.30" width="1.4" height="1.4" fill="#1b3778"/><rect x="321.30" y="35.30" width="1.4" height="1.4" fill="#1b3778"/><rect x="395.6" y="26.9" width="115.5" height="129.5" fill="none" stroke="#161616" stroke-width="1.25"/><line x1="392.3" y1="152.94" x2="395.6" y2="152.94" stroke="#161616" stroke-width="1"/><text x="389.4" y="155.94" font-size="8.8" text-anchor="end" font-weight="normal" fill="#151515" letter-spacing="0.1" stroke="#151515" stroke-width="0.16">-2</text><line x1="392.3" y1="132.40" x2="395.6" y2="132.40" stroke="#161616" stroke-width="1"/><text x="389.4" y="135.40" font-size="8.8" text-anchor="end" font-weight="normal" fill="#151515" letter-spacing="0.1" stroke="#151515" stroke-width="0.16">0</text><line x1="392.3" y1="111.86" x2="395.6" y2="111.86" stroke="#161616" stroke-width="1"/><text x="389.4" y="114.86" font-size="8.8" text-anchor="end" font-weight="normal" fill="#151515" letter-spacing="0.1" stroke="#151515" stroke-width="0.16">2</text><line x1="392.3" y1="91.32" x2="395.6" y2="91.32" stroke="#161616" stroke-width="1"/><text x="389.4" y="94.32" font-size="8.8" text-anchor="end" font-weight="normal" fill="#151515" letter-spacing="0.1" stroke="#151515" stroke-width="0.16">4</text><line x1="392.3" y1="70.78" x2="395.6" y2="70.78" stroke="#161616" stroke-width="1"/><text x="389.4" y="73.78" font-size="8.8" text-anchor="end" font-weight="normal" fill="#151515" letter-spacing="0.1" stroke="#151515" stroke-width="0.16">6</text><line x1="392.3" y1="50.24" x2="395.6" y2="50.24" stroke="#161616" stroke-width="1"/><text x="389.4" y="53.24" font-size="8.8" text-anchor="end" font-weight="normal" fill="#151515" letter-spacing="0.1" stroke="#151515" stroke-width="0.16">8</text><line x1="392.3" y1="29.70" x2="395.6" y2="29.70" stroke="#161616" stroke-width="1"/><text x="389.4" y="32.70" font-size="8.8" text-anchor="end" font-weight="normal" fill="#151515" letter-spacing="0.1" stroke="#151515" stroke-width="0.16">10</text><line x1="426.3" y1="156.4" x2="426.3" y2="159.5" stroke="#161616" stroke-width="1"/><line x1="480.2" y1="156.4" x2="480.2" y2="159.5" stroke="#161616" stroke-width="1"/><text x="426.3" y="170.4" font-size="8.5" text-anchor="middle" font-weight="normal" fill="#151515" textLength="18.6" lengthAdjust="spacingAndGlyphs" stroke="#151515" stroke-width="0.16">FLI/II</text><text x="481.2" y="170.4" font-size="8.5" text-anchor="middle" font-weight="normal" fill="#151515" textLength="26.5" lengthAdjust="spacingAndGlyphs" stroke="#151515" stroke-width="0.16">FLIII/IV</text><text x="481.0" y="180.2" font-size="8.5" text-anchor="middle" font-weight="normal" fill="#151515" textLength="30.3" lengthAdjust="spacingAndGlyphs" stroke="#151515" stroke-width="0.16">Training</text><text x="374.2" y="91.15" font-size="10.4" text-anchor="middle" font-weight="normal" fill="#151515" textLength="81.6" lengthAdjust="spacingAndGlyphs" transform="rotate(-90 374.2 91.15)" stroke="#1a1a1a" stroke-width="0.18">Gene signature (ridge)</text><line x1="426.4" y1="96.0" x2="426.4" y2="115.4" stroke="#222" stroke-width="0.9" stroke-dasharray="2.5,1.5"/><line x1="426.4" y1="125.4" x2="426.4" y2="143.0" stroke="#222" stroke-width="0.9" stroke-dasharray="2.5,1.5"/><line x1="421.15" y1="96.0" x2="431.65" y2="96.0" stroke="#161616" stroke-width="1.1"/><line x1="421.15" y1="143.0" x2="431.65" y2="143.0" stroke="#161616" stroke-width="1.1"/><rect x="415.4" y="115.4" width="22.100000000000023" height="10.0" fill="none" stroke="#161616" stroke-width="1.1"/><line x1="415.4" y1="119.7" x2="437.5" y2="119.7" stroke="#161616" stroke-width="1.3"/><circle cx="426.6" cy="94.4" r="1.5" fill="#222"/><circle cx="426.3" cy="70.2" r="1.5" fill="#222"/><circle cx="426.7" cy="152.3" r="1.5" fill="#222"/><line x1="479.9" y1="47.2" x2="479.9" y2="72.3" stroke="#222" stroke-width="0.9" stroke-dasharray="2.5,1.5"/><line x1="479.9" y1="90.0" x2="479.9" y2="115.1" stroke="#222" stroke-width="0.9" stroke-dasharray="2.5,1.5"/><line x1="469.2" y1="47.2" x2="490.59999999999997" y2="47.2" stroke="#161616" stroke-width="1.1"/><line x1="469.2" y1="115.1" x2="490.59999999999997" y2="115.1" stroke="#161616" stroke-width="1.1"/><rect x="458.3" y="72.3" width="43.39999999999998" height="17.700000000000003" fill="none" stroke="#161616" stroke-width="1.1"/><line x1="458.3" y1="82.0" x2="501.7" y2="82.0" stroke="#161616" stroke-width="1.3"/><circle cx="479" cy="30.3" r="1.5" fill="#222"/><circle cx="479" cy="37" r="1.5" fill="#222"/><circle cx="479" cy="39" r="1.5" fill="#222"/><circle cx="479" cy="41" r="1.5" fill="#222"/><rect x="429.90" y="116.31" width="1.4" height="1.4" fill="#1b3778"/><rect x="423.76" y="127.82" width="1.4" height="1.4" fill="#1b3778"/><rect x="423.37" y="105.61" width="1.4" height="1.4" fill="#1b3778"/><rect x="430.35" y="115.50" width="1.4" height="1.4" fill="#1b3778"/><rect x="425.74" y="125.66" width="1.4" height="1.4" fill="#1b3778"/><rect x="421.42" y="104.50" width="1.4" height="1.4" fill="#1b3778"/><rect x="420.89" y="123.31" width="1.4" height="1.4" fill="#1b3778"/><rect x="430.90" y="110.87" width="1.4" height="1.4" fill="#1b3778"/><rect x="426.54" y="105.61" width="1.4" height="1.4" fill="#1b3778"/><rect x="420.98" y="114.28" width="1.4" height="1.4" fill="#1b3778"/><rect x="425.82" y="128.72" width="1.4" height="1.4" fill="#1b3778"/><rect x="425.74" y="130.87" width="1.4" height="1.4" fill="#1b3778"/><rect x="425.02" y="111.46" width="1.4" height="1.4" fill="#1b3778"/><rect x="430.48" y="120.98" width="1.4" height="1.4" fill="#1b3778"/><rect x="430.46" y="106.08" width="1.4" height="1.4" fill="#1b3778"/><rect x="421.72" y="131.03" width="1.4" height="1.4" fill="#1b3778"/><rect x="422.01" y="115.36" width="1.4" height="1.4" fill="#1b3778"/><rect x="424.72" y="104.32" width="1.4" height="1.4" fill="#1b3778"/><rect x="429.24" y="125.42" width="1.4" height="1.4" fill="#1b3778"/><rect x="427.01" y="139.24" width="1.4" height="1.4" fill="#1b3778"/><rect x="428.14" y="112.14" width="1.4" height="1.4" fill="#1b3778"/><rect x="426.51" y="115.79" width="1.4" height="1.4" fill="#1b3778"/><rect x="422.63" y="126.56" width="1.4" height="1.4" fill="#1b3778"/><rect x="429.07" y="118.96" width="1.4" height="1.4" fill="#1b3778"/><rect x="420.55" y="120.63" width="1.4" height="1.4" fill="#1b3778"/><rect x="427.80" y="131.24" width="1.4" height="1.4" fill="#1b3778"/><rect x="422.46" y="96.35" width="1.4" height="1.4" fill="#1b3778"/><rect x="425.39" y="118.79" width="1.4" height="1.4" fill="#1b3778"/><rect x="430.74" y="119.24" width="1.4" height="1.4" fill="#1b3778"/><rect x="426.11" y="130.12" width="1.4" height="1.4" fill="#1b3778"/><rect x="421.00" y="117.29" width="1.4" height="1.4" fill="#1b3778"/><rect x="424.95" y="132.70" width="1.4" height="1.4" fill="#1b3778"/><rect x="427.40" y="120.91" width="1.4" height="1.4" fill="#1b3778"/><rect x="421.00" y="116.11" width="1.4" height="1.4" fill="#1b3778"/><rect x="423.08" y="119.02" width="1.4" height="1.4" fill="#1b3778"/><rect x="420.59" y="125.01" width="1.4" height="1.4" fill="#1b3778"/><rect x="426.12" y="122.14" width="1.4" height="1.4" fill="#1b3778"/><rect x="424.44" y="119.43" width="1.4" height="1.4" fill="#1b3778"/><rect x="425.74" y="126.58" width="1.4" height="1.4" fill="#1b3778"/><rect x="423.54" y="120.90" width="1.4" height="1.4" fill="#1b3778"/><rect x="427.36" y="113.83" width="1.4" height="1.4" fill="#1b3778"/><rect x="422.23" y="124.97" width="1.4" height="1.4" fill="#1b3778"/><rect x="430.01" y="137.54" width="1.4" height="1.4" fill="#1b3778"/><rect x="430.58" y="116.57" width="1.4" height="1.4" fill="#1b3778"/><rect x="425.63" y="115.58" width="1.4" height="1.4" fill="#1b3778"/><rect x="425.33" y="123.04" width="1.4" height="1.4" fill="#1b3778"/><rect x="429.51" y="124.78" width="1.4" height="1.4" fill="#1b3778"/><rect x="423.47" y="120.40" width="1.4" height="1.4" fill="#1b3778"/><rect x="428.91" y="138.81" width="1.4" height="1.4" fill="#1b3778"/><rect x="423.45" y="99.97" width="1.4" height="1.4" fill="#1b3778"/><rect x="428.03" y="131.68" width="1.4" height="1.4" fill="#1b3778"/><rect x="423.94" y="115.10" width="1.4" height="1.4" fill="#1b3778"/><rect x="426.79" y="116.07" width="1.4" height="1.4" fill="#1b3778"/><rect x="430.21" y="114.36" width="1.4" height="1.4" fill="#1b3778"/><rect x="420.98" y="115.64" width="1.4" height="1.4" fill="#1b3778"/><rect x="428.96" y="114.81" width="1.4" height="1.4" fill="#1b3778"/><rect x="426.14" y="125.85" width="1.4" height="1.4" fill="#1b3778"/><rect x="424.42" y="117.42" width="1.4" height="1.4" fill="#1b3778"/><rect x="424.11" y="125.61" width="1.4" height="1.4" fill="#1b3778"/><rect x="421.14" y="119.89" width="1.4" height="1.4" fill="#1b3778"/><rect x="423.14" y="118.58" width="1.4" height="1.4" fill="#1b3778"/><rect x="427.01" y="116.14" width="1.4" height="1.4" fill="#1b3778"/><rect x="421.43" y="127.93" width="1.4" height="1.4" fill="#1b3778"/><rect x="427.50" y="119.49" width="1.4" height="1.4" fill="#1b3778"/><rect x="430.60" y="118.12" width="1.4" height="1.4" fill="#1b3778"/><rect x="430.80" y="122.86" width="1.4" height="1.4" fill="#1b3778"/><rect x="429.83" y="117.05" width="1.4" height="1.4" fill="#1b3778"/><rect x="428.95" y="105.93" width="1.4" height="1.4" fill="#1b3778"/><rect x="422.29" y="125.61" width="1.4" height="1.4" fill="#1b3778"/><rect x="430.68" y="111.37" width="1.4" height="1.4" fill="#1b3778"/><rect x="422.55" y="117.21" width="1.4" height="1.4" fill="#1b3778"/><rect x="429.61" y="118.79" width="1.4" height="1.4" fill="#1b3778"/><rect x="429.71" y="118.21" width="1.4" height="1.4" fill="#1b3778"/><rect x="426.99" y="105.53" width="1.4" height="1.4" fill="#1b3778"/><rect x="425.93" y="116.93" width="1.4" height="1.4" fill="#1b3778"/><rect x="422.52" y="114.52" width="1.4" height="1.4" fill="#1b3778"/><rect x="425.91" y="118.53" width="1.4" height="1.4" fill="#1b3778"/><rect x="423.48" y="119.38" width="1.4" height="1.4" fill="#1b3778"/><rect x="421.73" y="113.09" width="1.4" height="1.4" fill="#1b3778"/><rect x="421.76" y="104.57" width="1.4" height="1.4" fill="#1b3778"/><rect x="428.89" y="102.12" width="1.4" height="1.4" fill="#1b3778"/><rect x="430.18" y="134.17" width="1.4" height="1.4" fill="#1b3778"/><rect x="421.90" y="129.28" width="1.4" height="1.4" fill="#1b3778"/><rect x="420.54" y="112.48" width="1.4" height="1.4" fill="#1b3778"/><rect x="423.19" y="119.20" width="1.4" height="1.4" fill="#1b3778"/><rect x="421.83" y="118.36" width="1.4" height="1.4" fill="#1b3778"/><rect x="422.40" y="124.57" width="1.4" height="1.4" fill="#1b3778"/><rect x="426.58" y="115.75" width="1.4" height="1.4" fill="#1b3778"/><rect x="424.88" y="135.86" width="1.4" height="1.4" fill="#1b3778"/><rect x="424.95" y="121.29" width="1.4" height="1.4" fill="#1b3778"/><rect x="422.58" y="110.67" width="1.4" height="1.4" fill="#1b3778"/><rect x="427.44" y="121.88" width="1.4" height="1.4" fill="#1b3778"/><rect x="423.47" y="114.60" width="1.4" height="1.4" fill="#1b3778"/><rect x="424.63" y="121.52" width="1.4" height="1.4" fill="#1b3778"/><rect x="425.31" y="115.56" width="1.4" height="1.4" fill="#1b3778"/><rect x="429.99" y="117.76" width="1.4" height="1.4" fill="#1b3778"/><rect x="423.01" y="116.86" width="1.4" height="1.4" fill="#1b3778"/><rect x="428.02" y="123.95" width="1.4" height="1.4" fill="#1b3778"/><rect x="423.68" y="95.60" width="1.4" height="1.4" fill="#1b3778"/><rect x="429.88" y="142.00" width="1.4" height="1.4" fill="#1b3778"/><rect x="477.94" y="89.98" width="1.4" height="1.4" fill="#1b3778"/><rect x="473.47" y="75.87" width="1.4" height="1.4" fill="#1b3778"/><rect x="481.56" y="75.33" width="1.4" height="1.4" fill="#1b3778"/><rect x="478.52" y="98.18" width="1.4" height="1.4" fill="#1b3778"/><rect x="482.77" y="86.00" width="1.4" height="1.4" fill="#1b3778"/><rect x="476.00" y="80.83" width="1.4" height="1.4" fill="#1b3778"/><rect x="481.12" y="93.98" width="1.4" height="1.4" fill="#1b3778"/><rect x="481.28" y="84.56" width="1.4" height="1.4" fill="#1b3778"/><rect x="478.77" y="86.21" width="1.4" height="1.4" fill="#1b3778"/><rect x="475.46" y="105.94" width="1.4" height="1.4" fill="#1b3778"/><rect x="478.03" y="60.11" width="1.4" height="1.4" fill="#1b3778"/><rect x="482.14" y="96.14" width="1.4" height="1.4" fill="#1b3778"/><rect x="475.47" y="57.31" width="1.4" height="1.4" fill="#1b3778"/><rect x="474.28" y="64.51" width="1.4" height="1.4" fill="#1b3778"/><rect x="478.75" y="109.61" width="1.4" height="1.4" fill="#1b3778"/><rect x="476.01" y="74.34" width="1.4" height="1.4" fill="#1b3778"/><rect x="482.81" y="69.95" width="1.4" height="1.4" fill="#1b3778"/><rect x="483.01" y="87.94" width="1.4" height="1.4" fill="#1b3778"/><rect x="484.54" y="74.48" width="1.4" height="1.4" fill="#1b3778"/><rect x="483.28" y="79.82" width="1.4" height="1.4" fill="#1b3778"/><rect x="480.97" y="98.71" width="1.4" height="1.4" fill="#1b3778"/><rect x="475.44" y="85.37" width="1.4" height="1.4" fill="#1b3778"/><rect x="483.08" y="70.48" width="1.4" height="1.4" fill="#1b3778"/><rect x="481.94" y="87.59" width="1.4" height="1.4" fill="#1b3778"/><rect x="482.16" y="70.76" width="1.4" height="1.4" fill="#1b3778"/><rect x="481.57" y="80.96" width="1.4" height="1.4" fill="#1b3778"/><rect x="483.16" y="55.30" width="1.4" height="1.4" fill="#1b3778"/><rect x="476.77" y="93.44" width="1.4" height="1.4" fill="#1b3778"/><rect x="481.27" y="69.94" width="1.4" height="1.4" fill="#1b3778"/><rect x="479.41" y="88.39" width="1.4" height="1.4" fill="#1b3778"/><rect x="477.25" y="76.25" width="1.4" height="1.4" fill="#1b3778"/><rect x="477.12" y="82.30" width="1.4" height="1.4" fill="#1b3778"/><rect x="475.07" y="85.29" width="1.4" height="1.4" fill="#1b3778"/><rect x="479.10" y="68.28" width="1.4" height="1.4" fill="#1b3778"/><rect x="477.62" y="75.56" width="1.4" height="1.4" fill="#1b3778"/><rect x="478.26" y="86.42" width="1.4" height="1.4" fill="#1b3778"/><rect x="483.42" y="53.80" width="1.4" height="1.4" fill="#1b3778"/><rect x="481.38" y="103.20" width="1.4" height="1.4" fill="#1b3778"/><rect x="481.36" y="91.41" width="1.4" height="1.4" fill="#1b3778"/><rect x="485.01" y="85.12" width="1.4" height="1.4" fill="#1b3778"/><rect x="475.81" y="96.51" width="1.4" height="1.4" fill="#1b3778"/><rect x="479.29" y="81.20" width="1.4" height="1.4" fill="#1b3778"/><rect x="474.31" y="82.00" width="1.4" height="1.4" fill="#1b3778"/><rect x="477.91" y="76.55" width="1.4" height="1.4" fill="#1b3778"/><rect x="484.60" y="53.85" width="1.4" height="1.4" fill="#1b3778"/><rect x="474.23" y="65.96" width="1.4" height="1.4" fill="#1b3778"/><rect x="482.29" y="83.39" width="1.4" height="1.4" fill="#1b3778"/><rect x="483.59" y="63.23" width="1.4" height="1.4" fill="#1b3778"/><rect x="479.31" y="83.86" width="1.4" height="1.4" fill="#1b3778"/><rect x="482.77" y="80.59" width="1.4" height="1.4" fill="#1b3778"/><rect x="478.49" y="72.42" width="1.4" height="1.4" fill="#1b3778"/><rect x="477.44" y="92.04" width="1.4" height="1.4" fill="#1b3778"/><rect x="479.27" y="90.38" width="1.4" height="1.4" fill="#1b3778"/><rect x="475.54" y="78.51" width="1.4" height="1.4" fill="#1b3778"/><rect x="476.89" y="74.44" width="1.4" height="1.4" fill="#1b3778"/><rect x="476.86" y="106.47" width="1.4" height="1.4" fill="#1b3778"/><rect x="485.06" y="88.45" width="1.4" height="1.4" fill="#1b3778"/><rect x="477.22" y="88.79" width="1.4" height="1.4" fill="#1b3778"/><rect x="475.95" y="68.15" width="1.4" height="1.4" fill="#1b3778"/><rect x="484.48" y="81.31" width="1.4" height="1.4" fill="#1b3778"/><rect x="474.86" y="84.40" width="1.4" height="1.4" fill="#1b3778"/><rect x="484.79" y="51.36" width="1.4" height="1.4" fill="#1b3778"/><rect x="483.44" y="102.20" width="1.4" height="1.4" fill="#1b3778"/><rect x="480.96" y="81.78" width="1.4" height="1.4" fill="#1b3778"/><rect x="478.33" y="86.92" width="1.4" height="1.4" fill="#1b3778"/><rect x="475.57" y="107.17" width="1.4" height="1.4" fill="#1b3778"/><rect x="474.47" y="80.99" width="1.4" height="1.4" fill="#1b3778"/><rect x="474.44" y="101.02" width="1.4" height="1.4" fill="#1b3778"/><rect x="477.39" y="105.11" width="1.4" height="1.4" fill="#1b3778"/><rect x="478.09" y="88.03" width="1.4" height="1.4" fill="#1b3778"/><rect x="484.28" y="84.17" width="1.4" height="1.4" fill="#1b3778"/><rect x="479.63" y="90.58" width="1.4" height="1.4" fill="#1b3778"/><rect x="485.09" y="78.66" width="1.4" height="1.4" fill="#1b3778"/><rect x="481.85" y="91.08" width="1.4" height="1.4" fill="#1b3778"/><rect x="474.96" y="75.33" width="1.4" height="1.4" fill="#1b3778"/><rect x="479.84" y="112.76" width="1.4" height="1.4" fill="#1b3778"/><rect x="475.11" y="97.75" width="1.4" height="1.4" fill="#1b3778"/><rect x="473.67" y="85.47" width="1.4" height="1.4" fill="#1b3778"/><rect x="484.53" y="52.23" width="1.4" height="1.4" fill="#1b3778"/><rect x="477.25" y="93.16" width="1.4" height="1.4" fill="#1b3778"/><rect x="475.48" y="89.30" width="1.4" height="1.4" fill="#1b3778"/><rect x="474.42" y="88.60" width="1.4" height="1.4" fill="#1b3778"/><rect x="481.03" y="84.21" width="1.4" height="1.4" fill="#1b3778"/><rect x="478.73" y="93.81" width="1.4" height="1.4" fill="#1b3778"/><rect x="473.34" y="82.31" width="1.4" height="1.4" fill="#1b3778"/><rect x="481.78" y="80.48" width="1.4" height="1.4" fill="#1b3778"/><rect x="476.28" y="91.75" width="1.4" height="1.4" fill="#1b3778"/><rect x="482.57" y="81.37" width="1.4" height="1.4" fill="#1b3778"/><rect x="479.06" y="80.23" width="1.4" height="1.4" fill="#1b3778"/><rect x="479.63" y="62.41" width="1.4" height="1.4" fill="#1b3778"/><rect x="478.69" y="78.12" width="1.4" height="1.4" fill="#1b3778"/><rect x="481.31" y="101.43" width="1.4" height="1.4" fill="#1b3778"/><rect x="485.08" y="72.01" width="1.4" height="1.4" fill="#1b3778"/><rect x="482.77" y="90.48" width="1.4" height="1.4" fill="#1b3778"/><rect x="474.03" y="96.65" width="1.4" height="1.4" fill="#1b3778"/><rect x="479.14" y="89.94" width="1.4" height="1.4" fill="#1b3778"/><rect x="476.01" y="76.49" width="1.4" height="1.4" fill="#1b3778"/><rect x="474.43" y="101.51" width="1.4" height="1.4" fill="#1b3778"/><rect x="475.54" y="86.56" width="1.4" height="1.4" fill="#1b3778"/><rect x="476.18" y="98.86" width="1.4" height="1.4" fill="#1b3778"/><rect x="484.72" y="72.05" width="1.4" height="1.4" fill="#1b3778"/><rect x="482.14" y="83.19" width="1.4" height="1.4" fill="#1b3778"/><rect x="483.44" y="106.36" width="1.4" height="1.4" fill="#1b3778"/><rect x="481.59" y="90.90" width="1.4" height="1.4" fill="#1b3778"/><rect x="476.99" y="97.25" width="1.4" height="1.4" fill="#1b3778"/><rect x="477.89" y="70.96" width="1.4" height="1.4" fill="#1b3778"/><rect x="478.49" y="52.69" width="1.4" height="1.4" fill="#1b3778"/><rect x="476.72" y="69.35" width="1.4" height="1.4" fill="#1b3778"/><rect x="478.26" y="95.12" width="1.4" height="1.4" fill="#1b3778"/><rect x="482.45" y="76.90" width="1.4" height="1.4" fill="#1b3778"/><rect x="474.11" y="87.05" width="1.4" height="1.4" fill="#1b3778"/><rect x="476.52" y="80.69" width="1.4" height="1.4" fill="#1b3778"/><rect x="478.95" y="59.39" width="1.4" height="1.4" fill="#1b3778"/><rect x="481.31" y="94.12" width="1.4" height="1.4" fill="#1b3778"/><rect x="480.95" y="72.33" width="1.4" height="1.4" fill="#1b3778"/><rect x="481.90" y="78.46" width="1.4" height="1.4" fill="#1b3778"/><rect x="474.46" y="50.66" width="1.4" height="1.4" fill="#1b3778"/><rect x="475.37" y="71.39" width="1.4" height="1.4" fill="#1b3778"/><rect x="476.91" y="87.50" width="1.4" height="1.4" fill="#1b3778"/><rect x="476.58" y="91.62" width="1.4" height="1.4" fill="#1b3778"/><rect x="482.27" y="64.95" width="1.4" height="1.4" fill="#1b3778"/><rect x="485.12" y="85.48" width="1.4" height="1.4" fill="#1b3778"/><rect x="481.40" y="77.56" width="1.4" height="1.4" fill="#1b3778"/><rect x="473.60" y="89.22" width="1.4" height="1.4" fill="#1b3778"/><rect x="476.77" y="78.27" width="1.4" height="1.4" fill="#1b3778"/><rect x="482.84" y="94.83" width="1.4" height="1.4" fill="#1b3778"/><rect x="484.29" y="87.02" width="1.4" height="1.4" fill="#1b3778"/><rect x="480.34" y="64.83" width="1.4" height="1.4" fill="#1b3778"/><rect x="477.39" y="95.17" width="1.4" height="1.4" fill="#1b3778"/><rect x="477.46" y="84.23" width="1.4" height="1.4" fill="#1b3778"/><rect x="480.80" y="96.53" width="1.4" height="1.4" fill="#1b3778"/><rect x="483.57" y="93.12" width="1.4" height="1.4" fill="#1b3778"/><rect x="477.29" y="73.95" width="1.4" height="1.4" fill="#1b3778"/><rect x="475.49" y="82.49" width="1.4" height="1.4" fill="#1b3778"/><rect x="473.23" y="84.82" width="1.4" height="1.4" fill="#1b3778"/><rect x="474.85" y="74.44" width="1.4" height="1.4" fill="#1b3778"/><rect x="483.41" y="56.64" width="1.4" height="1.4" fill="#1b3778"/><rect x="480.70" y="104.61" width="1.4" height="1.4" fill="#1b3778"/><rect x="485.09" y="74.94" width="1.4" height="1.4" fill="#1b3778"/><rect x="474.03" y="61.99" width="1.4" height="1.4" fill="#1b3778"/><rect x="477.59" y="106.55" width="1.4" height="1.4" fill="#1b3778"/><rect x="482.75" y="75.08" width="1.4" height="1.4" fill="#1b3778"/><rect x="481.13" y="63.25" width="1.4" height="1.4" fill="#1b3778"/><rect x="474.00" y="75.90" width="1.4" height="1.4" fill="#1b3778"/><rect x="478.02" y="99.56" width="1.4" height="1.4" fill="#1b3778"/><rect x="480.85" y="88.98" width="1.4" height="1.4" fill="#1b3778"/><rect x="481.45" y="82.41" width="1.4" height="1.4" fill="#1b3778"/><rect x="478.62" y="80.96" width="1.4" height="1.4" fill="#1b3778"/><rect x="475.46" y="78.06" width="1.4" height="1.4" fill="#1b3778"/><rect x="484.79" y="79.32" width="1.4" height="1.4" fill="#1b3778"/><rect x="478.80" y="99.24" width="1.4" height="1.4" fill="#1b3778"/><rect x="481.81" y="105.36" width="1.4" height="1.4" fill="#1b3778"/><rect x="479.62" y="74.76" width="1.4" height="1.4" fill="#1b3778"/><rect x="474.17" y="78.47" width="1.4" height="1.4" fill="#1b3778"/><rect x="476.04" y="92.87" width="1.4" height="1.4" fill="#1b3778"/><rect x="473.96" y="96.81" width="1.4" height="1.4" fill="#1b3778"/><rect x="475.49" y="60.67" width="1.4" height="1.4" fill="#1b3778"/><rect x="475.60" y="73.55" width="1.4" height="1.4" fill="#1b3778"/><rect x="478.18" y="70.82" width="1.4" height="1.4" fill="#1b3778"/><rect x="477.06" y="79.27" width="1.4" height="1.4" fill="#1b3778"/><rect x="477.55" y="103.43" width="1.4" height="1.4" fill="#1b3778"/><rect x="483.00" y="86.63" width="1.4" height="1.4" fill="#1b3778"/><rect x="473.46" y="74.72" width="1.4" height="1.4" fill="#1b3778"/><rect x="474.44" y="61.17" width="1.4" height="1.4" fill="#1b3778"/><rect x="482.89" y="70.52" width="1.4" height="1.4" fill="#1b3778"/><rect x="479.61" y="99.82" width="1.4" height="1.4" fill="#1b3778"/><rect x="478.47" y="85.91" width="1.4" height="1.4" fill="#1b3778"/><rect x="476.41" y="62.03" width="1.4" height="1.4" fill="#1b3778"/><rect x="479.71" y="75.94" width="1.4" height="1.4" fill="#1b3778"/><rect x="475.86" y="83.10" width="1.4" height="1.4" fill="#1b3778"/><rect x="483.50" y="87.11" width="1.4" height="1.4" fill="#1b3778"/><rect x="483.09" y="85.01" width="1.4" height="1.4" fill="#1b3778"/><rect x="477.06" y="87.26" width="1.4" height="1.4" fill="#1b3778"/><rect x="473.49" y="66.51" width="1.4" height="1.4" fill="#1b3778"/><rect x="483.85" y="90.43" width="1.4" height="1.4" fill="#1b3778"/><rect x="476.78" y="85.64" width="1.4" height="1.4" fill="#1b3778"/><rect x="481.08" y="61.92" width="1.4" height="1.4" fill="#1b3778"/><rect x="483.50" y="107.38" width="1.4" height="1.4" fill="#1b3778"/><rect x="482.78" y="88.40" width="1.4" height="1.4" fill="#1b3778"/><rect x="483.55" y="70.87" width="1.4" height="1.4" fill="#1b3778"/><rect x="479.07" y="102.41" width="1.4" height="1.4" fill="#1b3778"/><rect x="483.31" y="68.07" width="1.4" height="1.4" fill="#1b3778"/><rect x="478.73" y="78.36" width="1.4" height="1.4" fill="#1b3778"/><rect x="476.37" y="66.27" width="1.4" height="1.4" fill="#1b3778"/><rect x="478.97" y="93.73" width="1.4" height="1.4" fill="#1b3778"/><rect x="477.22" y="96.44" width="1.4" height="1.4" fill="#1b3778"/><rect x="482.41" y="63.70" width="1.4" height="1.4" fill="#1b3778"/><rect x="483.18" y="78.34" width="1.4" height="1.4" fill="#1b3778"/><rect x="474.89" y="99.30" width="1.4" height="1.4" fill="#1b3778"/><rect x="475.17" y="78.18" width="1.4" height="1.4" fill="#1b3778"/><rect x="477.80" y="84.37" width="1.4" height="1.4" fill="#1b3778"/><rect x="478.76" y="86.72" width="1.4" height="1.4" fill="#1b3778"/><rect x="484.68" y="94.09" width="1.4" height="1.4" fill="#1b3778"/><rect x="484.50" y="86.16" width="1.4" height="1.4" fill="#1b3778"/><rect x="484.80" y="95.95" width="1.4" height="1.4" fill="#1b3778"/><rect x="481.96" y="63.10" width="1.4" height="1.4" fill="#1b3778"/><rect x="481.33" y="89.52" width="1.4" height="1.4" fill="#1b3778"/><rect x="476.44" y="76.44" width="1.4" height="1.4" fill="#1b3778"/><rect x="477.67" y="68.67" width="1.4" height="1.4" fill="#1b3778"/><rect x="473.23" y="66.17" width="1.4" height="1.4" fill="#1b3778"/><rect x="483.20" y="81.89" width="1.4" height="1.4" fill="#1b3778"/><rect x="476.51" y="99.70" width="1.4" height="1.4" fill="#1b3778"/><rect x="474.15" y="54.69" width="1.4" height="1.4" fill="#1b3778"/><rect x="476.99" y="75.04" width="1.4" height="1.4" fill="#1b3778"/><rect x="477.08" y="72.62" width="1.4" height="1.4" fill="#1b3778"/><rect x="481.89" y="98.93" width="1.4" height="1.4" fill="#1b3778"/><rect x="473.27" y="72.83" width="1.4" height="1.4" fill="#1b3778"/><rect x="475.96" y="88.43" width="1.4" height="1.4" fill="#1b3778"/><rect x="483.96" y="82.28" width="1.4" height="1.4" fill="#1b3778"/><rect x="483.46" y="75.11" width="1.4" height="1.4" fill="#1b3778"/><rect x="480.75" y="85.26" width="1.4" height="1.4" fill="#1b3778"/><rect x="479.91" y="70.07" width="1.4" height="1.4" fill="#1b3778"/><rect x="475.87" y="93.68" width="1.4" height="1.4" fill="#1b3778"/><rect x="483.70" y="93.03" width="1.4" height="1.4" fill="#1b3778"/><rect x="482.33" y="59.94" width="1.4" height="1.4" fill="#1b3778"/><rect x="479.36" y="81.17" width="1.4" height="1.4" fill="#1b3778"/><rect x="475.13" y="66.54" width="1.4" height="1.4" fill="#1b3778"/><rect x="475.79" y="79.27" width="1.4" height="1.4" fill="#1b3778"/><rect x="477.75" y="72.96" width="1.4" height="1.4" fill="#1b3778"/><rect x="477.17" y="98.13" width="1.4" height="1.4" fill="#1b3778"/><rect x="473.93" y="95.50" width="1.4" height="1.4" fill="#1b3778"/><rect x="478.08" y="74.40" width="1.4" height="1.4" fill="#1b3778"/><rect x="478.58" y="87.87" width="1.4" height="1.4" fill="#1b3778"/><rect x="476.64" y="78.84" width="1.4" height="1.4" fill="#1b3778"/><rect x="477.81" y="82.37" width="1.4" height="1.4" fill="#1b3778"/><rect x="477.19" y="93.29" width="1.4" height="1.4" fill="#1b3778"/><rect x="477.72" y="103.74" width="1.4" height="1.4" fill="#1b3778"/><rect x="480.63" y="48.68" width="1.4" height="1.4" fill="#1b3778"/><rect x="479.17" y="86.19" width="1.4" height="1.4" fill="#1b3778"/><rect x="475.57" y="105.41" width="1.4" height="1.4" fill="#1b3778"/><rect x="482.74" y="81.15" width="1.4" height="1.4" fill="#1b3778"/><rect x="479.36" y="87.22" width="1.4" height="1.4" fill="#1b3778"/><rect x="478.70" y="61.46" width="1.4" height="1.4" fill="#1b3778"/><rect x="481.76" y="68.65" width="1.4" height="1.4" fill="#1b3778"/><rect x="482.23" y="75.19" width="1.4" height="1.4" fill="#1b3778"/><rect x="483.39" y="77.65" width="1.4" height="1.4" fill="#1b3778"/><rect x="482.93" y="107.59" width="1.4" height="1.4" fill="#1b3778"/><rect x="481.23" y="93.43" width="1.4" height="1.4" fill="#1b3778"/><rect x="481.85" y="46.80" width="1.4" height="1.4" fill="#1b3778"/><rect x="475.09" y="114.10" width="1.4" height="1.4" fill="#1b3778"/><rect x="475.30" y="36.30" width="1.4" height="1.4" fill="#1b3778"/><rect x="483.30" y="37.30" width="1.4" height="1.4" fill="#1b3778"/><rect x="476.30" y="39.30" width="1.4" height="1.4" fill="#1b3778"/><rect x="482.30" y="40.30" width="1.4" height="1.4" fill="#1b3778"/><rect x="475.30" y="33.30" width="1.4" height="1.4" fill="#1b3778"/><rect x="484.30" y="35.30" width="1.4" height="1.4" fill="#1b3778"/><rect x="235.3" y="215.8" width="111.89999999999998" height="118.69999999999999" fill="none" stroke="#161616" stroke-width="1.25"/><line x1="235.3" y1="329.08" x2="347.2" y2="220.63" stroke="#8a8a8a" stroke-width="0.9"/><path d="M239.20,325.20 L239.20,293.60 L240.30,293.60 L240.30,250.70 L241.00,249.00 L242.00,246.00 L243.20,241.60 L244.00,236.00 L244.20,232.10 L248.80,232.10 L251.20,230.00 L254.00,228.30 L265.60,228.30 L266.20,226.20 L269.60,226.00 L271.90,225.20 L276.50,224.60 L343.10,224.60" fill="none" stroke="#bc2c52" stroke-width="1.2" stroke-linejoin="round"/><line x1="232.10" y1="325.20" x2="235.3" y2="325.20" stroke="#161616" stroke-width="1"/><text x="228.6" y="328.20" font-size="8.9" text-anchor="end" font-weight="normal" fill="#151515" letter-spacing="0.1" stroke="#151515" stroke-width="0.16">0.0</text><line x1="239.30" y1="334.5" x2="239.30" y2="337.70" stroke="#161616" stroke-width="1"/><text x="239.50" y="348.9" font-size="8.9" text-anchor="middle" font-weight="normal" fill="#151515" letter-spacing="0.15" stroke="#151515" stroke-width="0.16">1.0</text><line x1="232.10" y1="305.08" x2="235.3" y2="305.08" stroke="#161616" stroke-width="1"/><text x="228.6" y="308.08" font-size="8.9" text-anchor="end" font-weight="normal" fill="#151515" letter-spacing="0.1" stroke="#151515" stroke-width="0.16">0.2</text><line x1="260.06" y1="334.5" x2="260.06" y2="337.70" stroke="#161616" stroke-width="1"/><text x="260.26" y="348.9" font-size="8.9" text-anchor="middle" font-weight="normal" fill="#151515" letter-spacing="0.15" stroke="#151515" stroke-width="0.16">0.8</text><line x1="232.10" y1="284.96" x2="235.3" y2="284.96" stroke="#161616" stroke-width="1"/><text x="228.6" y="287.96" font-size="8.9" text-anchor="end" font-weight="normal" fill="#151515" letter-spacing="0.1" stroke="#151515" stroke-width="0.16">0.4</text><line x1="280.82" y1="334.5" x2="280.82" y2="337.70" stroke="#161616" stroke-width="1"/><text x="281.02" y="348.9" font-size="8.9" text-anchor="middle" font-weight="normal" fill="#151515" letter-spacing="0.15" stroke="#151515" stroke-width="0.16">0.6</text><line x1="232.10" y1="264.84" x2="235.3" y2="264.84" stroke="#161616" stroke-width="1"/><text x="228.6" y="267.84" font-size="8.9" text-anchor="end" font-weight="normal" fill="#151515" letter-spacing="0.1" stroke="#151515" stroke-width="0.16">0.6</text><line x1="301.58" y1="334.5" x2="301.58" y2="337.70" stroke="#161616" stroke-width="1"/><text x="301.78" y="348.9" font-size="8.9" text-anchor="middle" font-weight="normal" fill="#151515" letter-spacing="0.15" stroke="#151515" stroke-width="0.16">0.4</text><line x1="232.10" y1="244.72" x2="235.3" y2="244.72" stroke="#161616" stroke-width="1"/><text x="228.6" y="247.72" font-size="8.9" text-anchor="end" font-weight="normal" fill="#151515" letter-spacing="0.1" stroke="#151515" stroke-width="0.16">0.8</text><line x1="322.34" y1="334.5" x2="322.34" y2="337.70" stroke="#161616" stroke-width="1"/><text x="322.54" y="348.9" font-size="8.9" text-anchor="middle" font-weight="normal" fill="#151515" letter-spacing="0.15" stroke="#151515" stroke-width="0.16">0.2</text><line x1="232.10" y1="224.60" x2="235.3" y2="224.60" stroke="#161616" stroke-width="1"/><text x="228.6" y="227.60" font-size="8.9" text-anchor="end" font-weight="normal" fill="#151515" letter-spacing="0.1" stroke="#151515" stroke-width="0.16">1.0</text><line x1="343.10" y1="334.5" x2="343.10" y2="337.70" stroke="#161616" stroke-width="1"/><text x="343.30" y="348.9" font-size="8.9" text-anchor="middle" font-weight="normal" fill="#151515" letter-spacing="0.15" stroke="#151515" stroke-width="0.16">0.0</text><text x="251" y="259.2" font-size="7.1" text-anchor="start" font-weight="normal" fill="#151515" textLength="39.2" lengthAdjust="spacingAndGlyphs" stroke="#151515" stroke-width="0.16">AUC: 0.9742</text><text x="292.1" y="289.8" font-size="7.1" text-anchor="start" font-weight="normal" fill="#4163a2">Cutoff: 13,672</text><text x="210.8" y="275.3" font-size="10.4" text-anchor="middle" font-weight="normal" fill="#151515" textLength="61.8" lengthAdjust="spacingAndGlyphs" transform="rotate(-90 210.8 275.3)" stroke="#1a1a1a" stroke-width="0.18">Sensitivity (lasso)</text><text x="289.4" y="362.4" font-size="10.8" text-anchor="middle" font-weight="normal" fill="#151515" textLength="61.0" lengthAdjust="spacingAndGlyphs" stroke="#1a1a1a" stroke-width="0.18">Specificity (lasso)</text><rect x="398.3" y="217.7" width="108.5" height="116.80000000000001" fill="none" stroke="#161616" stroke-width="1.25"/><line x1="398.3" y1="328.81" x2="506.8" y2="222.99" stroke="#8a8a8a" stroke-width="0.9"/><path d="M401.90,325.40 L401.90,304.00 L402.90,304.00 L402.90,245.30 L403.80,242.50 L404.40,239.30 L404.80,236.90 L405.60,236.10 L406.00,234.00 L406.80,233.20 L410.40,232.80 L411.30,230.40 L414.10,230.00 L414.90,229.30 L422.20,229.10 L423.40,228.20 L428.00,227.60 L432.60,226.60 L503.00,226.60" fill="none" stroke="#bc2c52" stroke-width="1.2" stroke-linejoin="round"/><line x1="395.10" y1="325.20" x2="398.3" y2="325.20" stroke="#161616" stroke-width="1"/><text x="391.9" y="328.20" font-size="8.9" text-anchor="end" font-weight="normal" fill="#151515" letter-spacing="0.1" stroke="#151515" stroke-width="0.16">0.0</text><line x1="402.00" y1="334.5" x2="402.00" y2="337.70" stroke="#161616" stroke-width="1"/><text x="402.20" y="348.9" font-size="8.9" text-anchor="middle" font-weight="normal" fill="#151515" letter-spacing="0.15" stroke="#151515" stroke-width="0.16">1.0</text><line x1="395.10" y1="305.48" x2="398.3" y2="305.48" stroke="#161616" stroke-width="1"/><text x="391.9" y="308.48" font-size="8.9" text-anchor="end" font-weight="normal" fill="#151515" letter-spacing="0.1" stroke="#151515" stroke-width="0.16">0.2</text><line x1="422.22" y1="334.5" x2="422.22" y2="337.70" stroke="#161616" stroke-width="1"/><text x="422.42" y="348.9" font-size="8.9" text-anchor="middle" font-weight="normal" fill="#151515" letter-spacing="0.15" stroke="#151515" stroke-width="0.16">0.8</text><line x1="395.10" y1="285.76" x2="398.3" y2="285.76" stroke="#161616" stroke-width="1"/><text x="391.9" y="288.76" font-size="8.9" text-anchor="end" font-weight="normal" fill="#151515" letter-spacing="0.1" stroke="#151515" stroke-width="0.16">0.4</text><line x1="442.44" y1="334.5" x2="442.44" y2="337.70" stroke="#161616" stroke-width="1"/><text x="442.64" y="348.9" font-size="8.9" text-anchor="middle" font-weight="normal" fill="#151515" letter-spacing="0.15" stroke="#151515" stroke-width="0.16">0.6</text><line x1="395.10" y1="266.04" x2="398.3" y2="266.04" stroke="#161616" stroke-width="1"/><text x="391.9" y="269.04" font-size="8.9" text-anchor="end" font-weight="normal" fill="#151515" letter-spacing="0.1" stroke="#151515" stroke-width="0.16">0.6</text><line x1="462.66" y1="334.5" x2="462.66" y2="337.70" stroke="#161616" stroke-width="1"/><text x="462.86" y="348.9" font-size="8.9" text-anchor="middle" font-weight="normal" fill="#151515" letter-spacing="0.15" stroke="#151515" stroke-width="0.16">0.4</text><line x1="395.10" y1="246.32" x2="398.3" y2="246.32" stroke="#161616" stroke-width="1"/><text x="391.9" y="249.32" font-size="8.9" text-anchor="end" font-weight="normal" fill="#151515" letter-spacing="0.1" stroke="#151515" stroke-width="0.16">0.8</text><line x1="482.88" y1="334.5" x2="482.88" y2="337.70" stroke="#161616" stroke-width="1"/><text x="483.08" y="348.9" font-size="8.9" text-anchor="middle" font-weight="normal" fill="#151515" letter-spacing="0.15" stroke="#151515" stroke-width="0.16">0.2</text><line x1="395.10" y1="226.60" x2="398.3" y2="226.60" stroke="#161616" stroke-width="1"/><text x="391.9" y="229.60" font-size="8.9" text-anchor="end" font-weight="normal" fill="#151515" letter-spacing="0.1" stroke="#151515" stroke-width="0.16">1.0</text><line x1="503.10" y1="334.5" x2="503.10" y2="337.70" stroke="#161616" stroke-width="1"/><text x="503.30" y="348.9" font-size="8.9" text-anchor="middle" font-weight="normal" fill="#151515" letter-spacing="0.15" stroke="#151515" stroke-width="0.16">0.0</text><text x="414.8" y="258.0" font-size="7.1" text-anchor="start" font-weight="normal" fill="#151515" textLength="39.2" lengthAdjust="spacingAndGlyphs" stroke="#151515" stroke-width="0.16">AUC: 0.9795</text><text x="458.8" y="289.1" font-size="7.1" text-anchor="start" font-weight="normal" fill="#4163a2">Cutoff: 2,932</text><text x="374.2" y="275.55" font-size="10.4" text-anchor="middle" font-weight="normal" fill="#151515" textLength="62.3" lengthAdjust="spacingAndGlyphs" transform="rotate(-90 374.2 275.55)" stroke="#1a1a1a" stroke-width="0.18">Sensitivity (ridge)</text><text x="453.7" y="362.6" font-size="10.8" text-anchor="middle" font-weight="normal" fill="#151515" textLength="62.0" lengthAdjust="spacingAndGlyphs" stroke="#1a1a1a" stroke-width="0.18">Specificity (ridge)</text>
</svg>
</body></html>
